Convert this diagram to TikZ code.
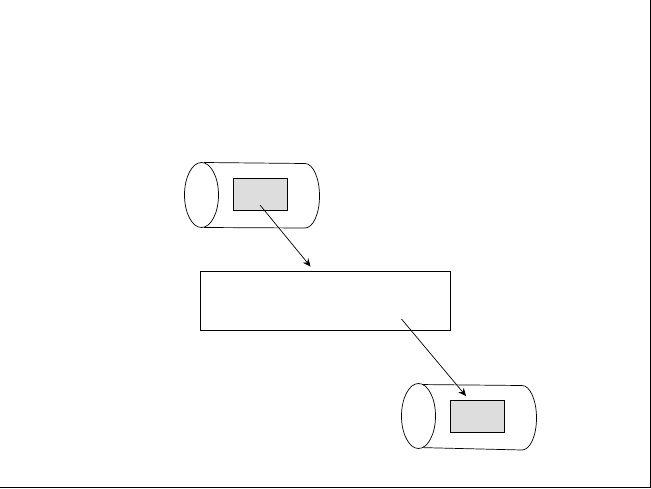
\documentclass[tikz,border=0pt]{standalone}
\usetikzlibrary{arrows.meta,shapes.geometric}
\definecolor{panelgray}{RGB}{221,221,221}

\begin{document}
\begin{tikzpicture}[
    x=0.025cm, y=-0.025cm,
    >={Stealth[length=5.5pt, width=5pt]},
    line width=0.5pt,
    every node/.style={inner sep=0pt, outer sep=0pt},
    endcap/.style={draw, ellipse, fill=white, minimum width=0.85cm, minimum height=1.625cm},
    smallbox/.style={draw, fill=panelgray, minimum width=1.35cm, minimum height=0.8cm},
    bigbox/.style={draw, fill=white, minimum width=6.25cm, minimum height=1.475cm},
    frameedge/.style={line width=1pt}
]
\useasboundingbox (0,0) rectangle (651,488);

% frame
\coordinate (cornerTR) at (650.5,0);
\coordinate (cornerBR) at (650.5,487.5);
\coordinate (cornerBL) at (0,487.5);
\draw[frameedge] (cornerTR) -- (cornerBR) -- (cornerBL);

% upper cylinder
\draw (204,162.5) -- (305,163.5) .. controls (313,163.5) and (319.5,178) .. (319.5,196)
      .. controls (319.5,214) and (313,228) .. (305,228) -- (204,227.5);
\node[endcap] (capA) at (201.5,195) {};
\node[smallbox] (boxA) at (260.5,194.5) {};

% lower cylinder
\draw (418,384.5) -- (522,385.5) .. controls (530,385.5) and (536.5,400) .. (536.5,418)
      .. controls (536.5,436) and (530,450) .. (522,450) -- (418,447.5);
\node[endcap] (capB) at (418.5,416) {};
\node[smallbox] (boxB) at (477.5,416.5) {};

\node[bigbox] (panel) at (325,300.5) {};

\coordinate (startA) at (260,205);
\coordinate (endA) at (310.5,266.5);
\coordinate (startB) at (401.5,319);
\coordinate (endB) at (466,396);

\draw[->] (startA) -- (endA);
\draw[->] (startB) -- (endB);

\end{tikzpicture}
\end{document}
